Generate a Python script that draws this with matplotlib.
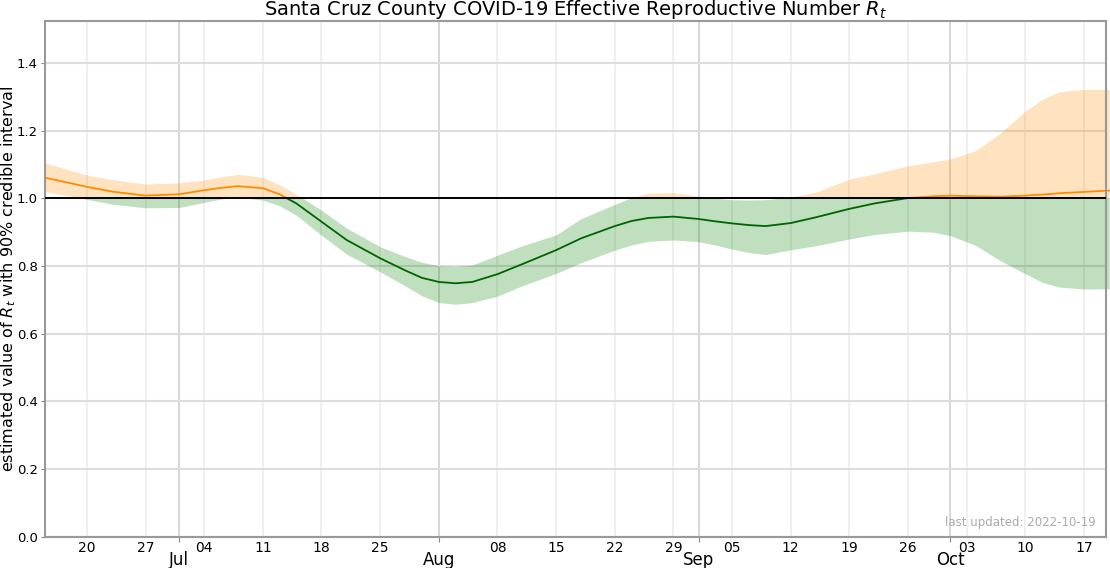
import numpy as np
import pandas as pd
import matplotlib
matplotlib.use("Agg")
import matplotlib.pyplot as plt
import matplotlib.dates as mdates
from matplotlib.patches import Rectangle

# values
dates = pd.to_datetime([
    "2022-06-15", "2022-06-18", "2022-06-20", "2022-06-23", "2022-06-27",
    "2022-07-01", "2022-07-04", "2022-07-06", "2022-07-08", "2022-07-11",
    "2022-07-13", "2022-07-15", "2022-07-18", "2022-07-21", "2022-07-25",
    "2022-07-28", "2022-07-30", "2022-08-01", "2022-08-03", "2022-08-05",
    "2022-08-08", "2022-08-11", "2022-08-15", "2022-08-18", "2022-08-22",
    "2022-08-24", "2022-08-26", "2022-08-29", "2022-09-01", "2022-09-03",
    "2022-09-05", "2022-09-07", "2022-09-09", "2022-09-12", "2022-09-15",
    "2022-09-19", "2022-09-22", "2022-09-26", "2022-09-29", "2022-10-01",
    "2022-10-04", "2022-10-07", "2022-10-10", "2022-10-12", "2022-10-14",
    "2022-10-17", "2022-10-20",
])
rt_median = [
    1.061, 1.045, 1.034, 1.020, 1.008,
    1.012, 1.024, 1.031, 1.036, 1.030,
    1.012, 0.985, 0.931, 0.877, 0.823,
    0.787, 0.765, 0.753, 0.749, 0.753,
    0.776, 0.806, 0.847, 0.882, 0.918,
    0.933, 0.942, 0.946, 0.939, 0.932,
    0.926, 0.921, 0.918, 0.927, 0.944,
    0.969, 0.985, 1.001, 1.006, 1.008,
    1.006, 1.005, 1.008, 1.011, 1.015,
    1.019, 1.023,
]
rt_lower = [
    1.020, 1.007, 0.997, 0.983, 0.972,
    0.973, 0.988, 0.998, 1.003, 0.995,
    0.978, 0.950, 0.891, 0.835, 0.783,
    0.741, 0.712, 0.692, 0.687, 0.692,
    0.711, 0.742, 0.778, 0.810, 0.847,
    0.862, 0.873, 0.877, 0.872, 0.862,
    0.850, 0.840, 0.834, 0.848, 0.860,
    0.880, 0.893, 0.903, 0.900, 0.890,
    0.862, 0.816, 0.777, 0.752, 0.738,
    0.732, 0.733,
]
rt_upper = [
    1.105, 1.083, 1.069, 1.055, 1.042,
    1.046, 1.054, 1.063, 1.071, 1.062,
    1.040, 1.012, 0.965, 0.912, 0.857,
    0.828, 0.811, 0.801, 0.799, 0.803,
    0.832, 0.860, 0.892, 0.940, 0.982,
    1.002, 1.015, 1.017, 1.006, 1.000,
    0.996, 0.995, 0.996, 1.003, 1.018,
    1.057, 1.072, 1.096, 1.108, 1.116,
    1.140, 1.192, 1.258, 1.292, 1.315,
    1.322, 1.322,
]
last_updated = "2022-10-19"

fig = plt.figure(figsize=(11.1, 5.68), dpi=100)
ax = fig.add_axes([0.0405, 0.055, 0.9556, 0.9086])

x0 = mdates.date2num(pd.Timestamp("2022-06-15"))
x1 = mdates.date2num(pd.Timestamp("2022-10-19 14:00"))

# above / below 1 coloured by clipping
above = Rectangle((x0 - 10, 1.0), x1 - x0 + 20, 10, transform=ax.transData)
below = Rectangle((x0 - 10, -10), x1 - x0 + 20, 11, transform=ax.transData)

f_up = ax.fill_between(dates, rt_lower, rt_upper, color="darkorange", alpha=0.25, lw=0)
f_up.set_clip_path(above)
f_dn = ax.fill_between(dates, rt_lower, rt_upper, color="green", alpha=0.25, lw=0)
f_dn.set_clip_path(below)

l_up, = ax.plot(dates, rt_median, color="darkorange", lw=1.3)
l_up.set_clip_path(above)
l_dn, = ax.plot(dates, rt_median, color="darkgreen", lw=1.3)
l_dn.set_clip_path(below)

ax.axhline(1.0, color="black", lw=1.4, zorder=3)

ax.set_xlim(x0, x1)
ax.set_ylim(0, 1.525)

ax.xaxis.set_major_locator(mdates.MonthLocator())
ax.xaxis.set_major_formatter(mdates.DateFormatter("%b"))
ax.xaxis.set_minor_locator(mdates.WeekdayLocator(byweekday=mdates.MO))
ax.xaxis.set_minor_formatter(mdates.DateFormatter("%d"))
ax.tick_params(axis="x", which="major", length=3.5, pad=7, labelsize=12, color="#888888")
ax.tick_params(axis="x", which="minor", length=0, pad=3, labelsize=10)
ax.tick_params(axis="y", length=3, pad=2, labelsize=9.5, color="#888888")
ax.set_yticks(np.arange(0, 1.41, 0.2))

ax.grid(axis="y", color="#dddddd", lw=1.5)
ax.grid(axis="x", which="minor", color="#eeeeee", lw=1.2)
ax.grid(axis="x", which="major", color="#d0d0d0", lw=1.2)
ax.set_axisbelow(True)

for s in ax.spines.values():
    s.set_color("#999999")
    s.set_linewidth(1.5)

ax.set_title("Santa Cruz County COVID-19 Effective Reproductive Number $R_t$", fontsize=14, pad=0.5)
ax.set_ylabel("estimated value of $R_t$ with 90% credible interval", fontsize=11.5)
ax.yaxis.set_label_coords(-0.0255, 0.5)
ax.text(0.991, 0.015, "last updated: " + last_updated, transform=ax.transAxes,
        ha="right", va="bottom", fontsize=8.5, color="#aaaaaa")

fig.savefig("out.png", dpi=100)
